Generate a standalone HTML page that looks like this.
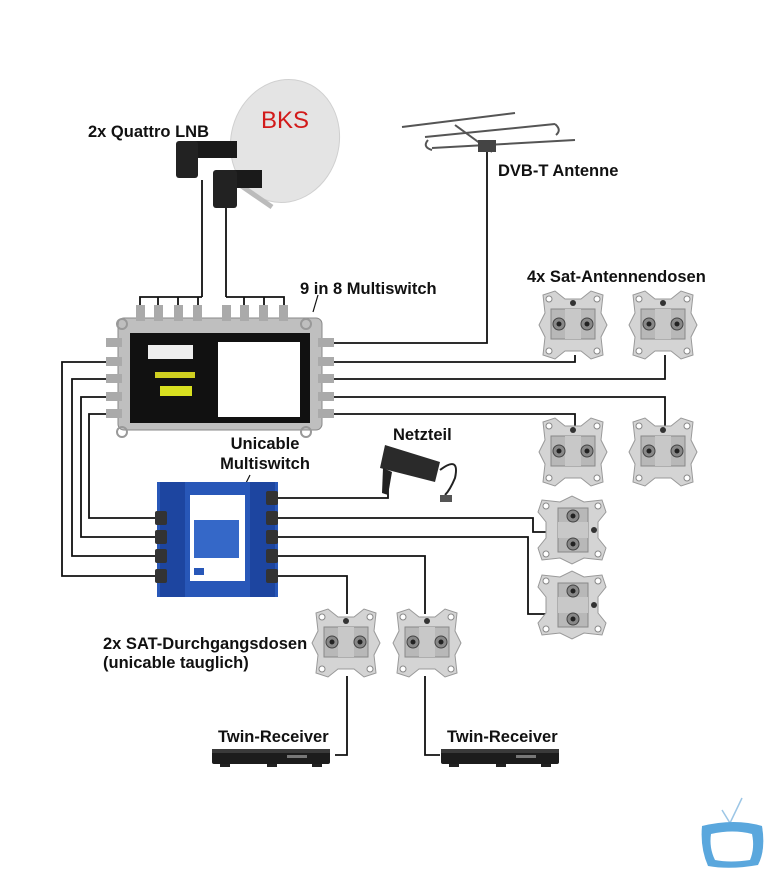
<!DOCTYPE html>
<html><head><meta charset="utf-8"><style>
html,body{margin:0;padding:0;background:#fff;}
svg{display:block}
text{font-family:"Liberation Sans",sans-serif;font-weight:bold;fill:#111;font-size:16.5px}
</style></head><body>
<svg width="768" height="869" viewBox="0 0 768 869" xmlns="http://www.w3.org/2000/svg">
<defs>
<g id="dose">
  <path d="M-30,-30 L-18,-34 L-8,-26 L8,-26 L18,-34 L30,-30 L28,-12 L34,0 L28,12 L30,30 L18,34 L8,26 L-8,26 L-18,34 L-30,30 L-28,12 L-34,0 L-28,-12 Z" fill="#d4d4d4" stroke="#999" stroke-width="1"/>
  <rect x="-22" y="-16" width="44" height="30" fill="#b8b8b8" stroke="#888"/>
  <rect x="-8" y="-16" width="16" height="30" fill="#c8c8c8"/>
  <circle cx="-14" cy="-1" r="6" fill="#888" stroke="#444"/><circle cx="-14" cy="-1" r="2.5" fill="#222"/>
  <circle cx="14" cy="-1" r="6" fill="#888" stroke="#444"/><circle cx="14" cy="-1" r="2.5" fill="#222"/>
  <circle cx="0" cy="-22" r="3" fill="#333"/>
  <circle cx="-24" cy="-26" r="3" fill="#fff" stroke="#888"/><circle cx="24" cy="26" r="3" fill="#fff" stroke="#888"/>
  <circle cx="24" cy="-26" r="3" fill="#fff" stroke="#888"/><circle cx="-24" cy="26" r="3" fill="#fff" stroke="#888"/>
</g>
<g id="recv">
  <rect x="0" y="0" width="118" height="15" rx="2" fill="#1c1c1c"/>
  <rect x="0" y="0" width="118" height="4" fill="#3a3a3a"/>
  <rect x="75" y="6" width="20" height="3" fill="#777"/>
  <rect x="8" y="15" width="10" height="3" fill="#222"/><rect x="55" y="15" width="10" height="3" fill="#222"/><rect x="100" y="15" width="10" height="3" fill="#222"/>
</g>
</defs>

<g fill="none" stroke="#111" stroke-width="1.8">
  <path d="M202,180 V297 M140,315 V297 H202 M158,297 V315 M178,297 V315 M198,297 V315"/>
  <path d="M226,200 V297 M226,297 H284 V315 M244,297 V315 M264,297 V315"/>
  <path d="M487,150 V343 H320"/>
  <path d="M320,362 H575 V355"/>
  <path d="M320,379 H665 V355"/>
  <path d="M320,397 H665 V428"/>
  <path d="M320,414 H575 V430"/>
  <path d="M118,362 H62 V576 H160"/>
  <path d="M118,379 H72 V556 H160"/>
  <path d="M118,397 H81 V537 H160"/>
  <path d="M118,414 H89 V518 H160"/>
  <path d="M276,498 H388 V488"/>
  <path d="M276,518 H533 V532 H548"/>
  <path d="M276,537 H528 V614 H548"/>
  <path d="M276,556 H425 V614"/>
  <path d="M276,576 H347 V614"/>
  <path d="M347,676 V755 H335"/>
  <path d="M425,676 V755 H440"/>
  <path d="M318,295 L313,312" stroke-width="1.2"/>
  <path d="M250,475 L245,485" stroke-width="1.2"/>
</g>

<ellipse cx="285" cy="141" rx="54" ry="62" transform="rotate(15 285 141)" fill="#e4e4e4" stroke="#d0d0d0"/>
<text x="261" y="128" style="font-size:24px;font-weight:normal;fill:#d21a1a">BKS</text>
<path d="M240,185 L272,207" stroke="#bbb" stroke-width="5"/>
<rect x="191" y="141" width="46" height="17" fill="#1a1a1a"/>
<rect x="176" y="141" width="22" height="37" rx="3" fill="#222"/>
<rect x="216" y="170" width="46" height="18" fill="#1a1a1a"/>
<rect x="213" y="170" width="24" height="38" rx="3" fill="#222"/>

<g stroke="#555" stroke-width="2" fill="none">
  <path d="M402,127 L515,113"/>
  <path d="M425,137 L555,124"/>
  <path d="M432,148 L575,140"/>
  <path d="M428,140 Q422,147 432,150 M555,124 Q562,130 556,135"/>
  <path d="M455,125 L492,152"/>
</g>
<rect x="478" y="140" width="18" height="12" fill="#444"/>

<g>
  <rect x="118" y="318" width="204" height="112" rx="6" fill="#bfbfbf" stroke="#888"/>
  <rect x="130" y="333" width="180" height="90" fill="#111"/>
  <rect x="148" y="345" width="45" height="14" fill="#eee"/>
  <rect x="155" y="372" width="40" height="6" fill="#cfcf20"/>
  <rect x="160" y="386" width="32" height="10" fill="#d8e020"/>
  <rect x="218" y="342" width="82" height="75" fill="#fff"/>
  <g fill="#aaa">
    <rect x="136" y="305" width="9" height="16"/><rect x="154" y="305" width="9" height="16"/><rect x="174" y="305" width="9" height="16"/><rect x="193" y="305" width="9" height="16"/>
    <rect x="222" y="305" width="9" height="16"/><rect x="240" y="305" width="9" height="16"/><rect x="259" y="305" width="9" height="16"/><rect x="279" y="305" width="9" height="16"/>
    <rect x="106" y="338" width="16" height="9"/><rect x="106" y="357" width="16" height="9"/><rect x="106" y="374" width="16" height="9"/><rect x="106" y="392" width="16" height="9"/><rect x="106" y="409" width="16" height="9"/>
    <rect x="318" y="338" width="16" height="9"/><rect x="318" y="357" width="16" height="9"/><rect x="318" y="374" width="16" height="9"/><rect x="318" y="392" width="16" height="9"/><rect x="318" y="409" width="16" height="9"/>
  </g>
  <circle cx="122" cy="324" r="5" fill="none" stroke="#999" stroke-width="2"/><circle cx="306" cy="324" r="5" fill="none" stroke="#999" stroke-width="2"/>
  <circle cx="122" cy="432" r="5" fill="none" stroke="#999" stroke-width="2"/><circle cx="306" cy="432" r="5" fill="none" stroke="#999" stroke-width="2"/>
</g>

<g>
  <rect x="157" y="482" width="121" height="115" fill="#2857b8"/>
  <rect x="160" y="482" width="25" height="115" fill="#1d45a0"/>
  <rect x="250" y="482" width="25" height="115" fill="#1d45a0"/>
  <rect x="190" y="495" width="55" height="86" fill="#fff"/>
  <rect x="194" y="520" width="45" height="38" fill="#3568c8"/>
  <rect x="194" y="568" width="10" height="7" fill="#2857b8"/>
  <g fill="#333">
    <rect x="155" y="511" width="12" height="14" rx="2"/><rect x="155" y="530" width="12" height="14" rx="2"/><rect x="155" y="549" width="12" height="14" rx="2"/><rect x="155" y="569" width="12" height="14" rx="2"/>
    <rect x="266" y="491" width="12" height="14" rx="2"/><rect x="266" y="511" width="12" height="14" rx="2"/><rect x="266" y="530" width="12" height="14" rx="2"/><rect x="266" y="549" width="12" height="14" rx="2"/><rect x="266" y="569" width="12" height="14" rx="2"/>
  </g>
</g>

<path d="M385,445 L440,462 L435,482 L380,468 Z" fill="#2a2a2a"/>
<path d="M383,468 L392,472 L388,495 L382,493 Z" fill="#222"/>
<path d="M440,470 Q460,455 455,478 Q450,490 445,495" stroke="#222" stroke-width="2" fill="none"/>
<rect x="440" y="495" width="12" height="7" fill="#555"/>

<use href="#dose" x="573" y="325"/>
<use href="#dose" x="663" y="325"/>
<use href="#dose" x="573" y="452"/>
<use href="#dose" x="663" y="452"/>
<use href="#dose" transform="translate(572,530) rotate(90)"/>
<use href="#dose" transform="translate(572,605) rotate(90)"/>
<use href="#dose" x="346" y="643"/>
<use href="#dose" x="427" y="643"/>

<use href="#recv" x="212" y="749"/>
<use href="#recv" x="441" y="749"/>

<text x="88" y="137">2x Quattro LNB</text>
<text x="498" y="176">DVB-T Antenne</text>
<text x="300" y="294">9 in 8 Multiswitch</text>
<text x="527" y="282">4x Sat-Antennendosen</text>
<text x="265" y="449" text-anchor="middle">Unicable</text>
<text x="265" y="469" text-anchor="middle">Multiswitch</text>
<text x="393" y="440">Netzteil</text>
<text x="103" y="649">2x SAT-Durchgangsdosen</text>
<text x="103" y="668">(unicable tauglich)</text>
<text x="218" y="742">Twin-Receiver</text>
<text x="447" y="742">Twin-Receiver</text>

<path d="M722,810 L730,823 L742,798" stroke="#9cc6e6" stroke-width="1.5" fill="none"/>
<path d="M702,826 Q735,818 762,826 Q766,850 758,865 Q730,870 708,866 Q700,848 702,826 Z" fill="#5aa7dd"/>
<path d="M711,834 Q733,829 752,834 Q755,848 750,860 Q730,863 715,860 Q709,848 711,834 Z" fill="#fff"/>
</svg>
</body></html>
